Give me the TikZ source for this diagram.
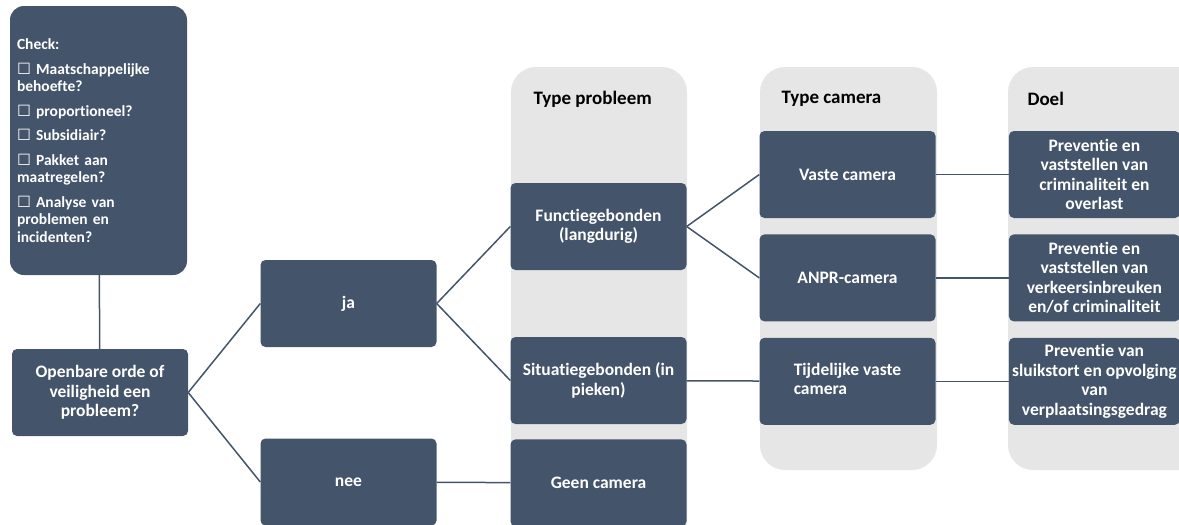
\documentclass[tikz,border=0pt]{standalone}
\usepackage{fontspec}
\setmainfont{Carlito}[Ligatures=NoCommon]
\newfontfamily\symfont{DejaVu Sans}
\usetikzlibrary{positioning}
\definecolor{slate}{HTML}{44546A}
\definecolor{lanegrey}{HTML}{E6E6E6}
\newcommand{\tick}{{\symfont\char"2610}}
\tikzset{
  main node/.style={rectangle,rounded corners=5pt,fill=slate,text=white,align=center,
    font=\bfseries\fontsize{17.5}{19.5}\selectfont,minimum width=176pt,minimum height=87pt,inner sep=1pt},
  check node/.style={main node,rounded corners=14pt,minimum width=177pt,minimum height=269pt,
    text width=163pt,align=left,font=\bfseries\fontsize{15.5}{17.5}\selectfont},
  lane/.style={fill=lanegrey,rounded corners=25pt},
  head/.style={anchor=west,font=\bfseries\fontsize{19}{21}\selectfont},
  link/.style={draw=slate,line width=1.5pt}
}

\begin{document}
\begin{tikzpicture}[x=1pt,y=-1pt,node distance=16pt]
    \clip (0,0) rectangle (1179,525);
    \useasboundingbox (0,0) rectangle (1179,525);

    % grey lanes
    \fill[lane] (511,67) rectangle (687,570);
    \fill[lane] (760,67) rectangle (937,470);
    \fill[lane] (1008,67) rectangle (1210,470);
    \node[head] (hprob) at (530,99) {Type probleem};
    \node[head] (hcam) at (778,99) {Type camera};
    \node[head] (hdoel) at (1024,99) {Doel};

    \node[check node] (check) at (98.5,140.5) {Check:\\[7pt]
      \tick{} Maatschappelijke\\behoefte?\\[7pt]
      \tick{} proportioneel?\\[7pt]
      \tick{} Subsidiair?\\[7pt]
      \tick{} Pakket aan\\maatregelen?\\[7pt]
      \tick{} Analyse van\\problemen en\\incidenten?};

    \node[main node] (open) at (100,392.5) {Openbare orde of\\veiligheid een\\probleem?};
    \node[main node] (ja) at (348.5,303.5) {ja};
    \node[main node] (nee) at (348.5,482) {nee};

    \node[main node] (func) at (598.5,226.5) {Functiegebonden\\(langdurig)};
    \node[main node] (sit) at (598.5,380.5) {Situatiegebonden (in\\pieken)};
    \node[main node] (geen) [below=15pt of sit] {Geen camera};

    \node[main node] (vaste) at (847.5,174.5) {Vaste camera};
    \node[main node] (anpr) [below=16pt of vaste] {ANPR-camera};
    \node[main node] (tijd) [below=16pt of anpr] {\begin{tabular}{@{}l@{}}Tijdelijke vaste\\camera\end{tabular}};

    \node[main node,minimum width=171pt] (doel1) [right=73pt of vaste] {Preventie en\\vaststellen van\\criminaliteit en\\overlast};
    \node[main node,minimum width=171pt] (doel2) [right=73pt of anpr] {Preventie en\\vaststellen van\\verkeersinbreuken\\en/of criminaliteit};
    \node[main node,minimum width=171pt] (doel3) [right=73pt of tijd] {Preventie van\\sluikstort en opvolging\\van\\verplaatsingsgedrag};

    \path[link]
      (check) edge (open)
      (open.east) edge (ja.west)
                  edge (nee.west)
      (ja.east) edge (func.west)
                edge (sit.west)
      (nee) edge (geen)
      (func.east) edge (vaste.west)
                  edge (anpr.west)
      (sit) edge (tijd)
      (vaste) edge (doel1)
      (anpr) edge (doel2)
      (tijd) edge (doel3);
\end{tikzpicture}
\end{document}
